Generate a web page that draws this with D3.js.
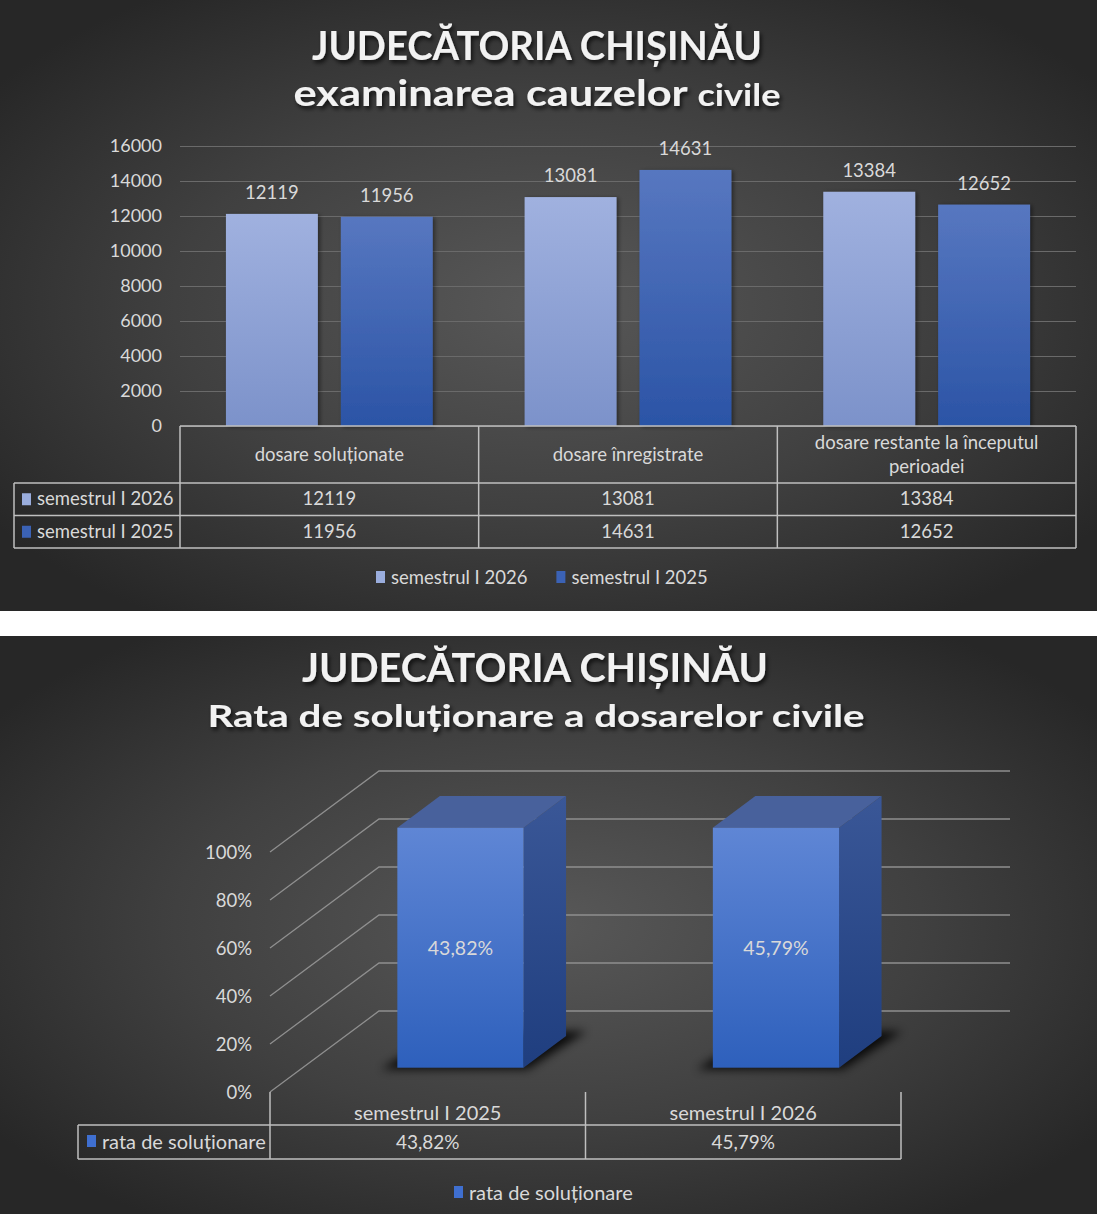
<!DOCTYPE html>
<html>
<head>
<meta charset="utf-8">
<script src="https://cdn.jsdelivr.net/npm/d3@7"></script>
<style>
  body { margin: 0; background: #fff; }
  svg { display: block; font-family: Lato, "Open Sans", sans-serif; }
  text { fill: #d9d9d9; }
</style>
</head>
<body>
<svg width="1097" height="1214"></svg>
<script>
// data - first chart
const categories = ["dosare soluționate", "dosare înregistrate", "dosare restante la începutul perioadei"];
const seriesNames = ["semestrul I 2026", "semestrul I 2025"];
const values2026 = [12119, 13081, 13384];
const values2025 = [11956, 14631, 12652];
const yTicks = [0, 2000, 4000, 6000, 8000, 10000, 12000, 14000, 16000];

// data - second chart (values kept as typed in the sheet, axis max 100%)
const rataCategories = ["semestrul I 2025", "semestrul I 2026"];
const rataValues = [43.82, 45.79];
const rataTicks = [0, 0.2, 0.4, 0.6, 0.8, 1];
const rataSeries = "rata de soluționare";

const svg = d3.select("svg");
const defs = svg.append("defs");

// Backgrounds
const bg = defs.append("radialGradient").attr("id", "bg").attr("cx", "50%").attr("cy", "50%").attr("r", "62%");
bg.append("stop").attr("offset", "0%").attr("stop-color", "#585858");
bg.append("stop").attr("offset", "55%").attr("stop-color", "#404040");
bg.append("stop").attr("offset", "100%").attr("stop-color", "#272727");

const vgrad = (id, c1, c2) => {
    const gr = defs.append("linearGradient").attr("id", id).attr("x1", 0).attr("y1", 0).attr("x2", 0).attr("y2", 1);
    gr.append("stop").attr("offset", "0%").attr("stop-color", c1);
    gr.append("stop").attr("offset", "100%").attr("stop-color", c2);
};
vgrad("g2026", "#a0b1df", "#7c92ca");
vgrad("g2025", "#5777c0", "#2b54a6");
vgrad("front3d", "#5f86d5", "#2e60bc");
vgrad("side3d", "#3a5797", "#1f3e7f");

const shadow = defs.append("filter").attr("id", "tshadow").attr("x", "-10%").attr("y", "-30%").attr("width", "120%").attr("height", "160%");
shadow.append("feDropShadow").attr("dx", 2).attr("dy", 3).attr("stdDeviation", 2).attr("flood-color", "#000").attr("flood-opacity", 0.7);
const barShadow = defs.append("filter").attr("id", "bshadow").attr("x", "-20%").attr("y", "-20%").attr("width", "140%").attr("height", "140%");
barShadow.append("feDropShadow").attr("dx", 2).attr("dy", 1).attr("stdDeviation", 2).attr("flood-color", "#000").attr("flood-opacity", 0.45);
const blur = defs.append("filter").attr("id", "blur").attr("x", "-30%").attr("y", "-50%").attr("width", "160%").attr("height", "200%");
blur.append("feGaussianBlur").attr("stdDeviation", 5);

svg.append("rect").attr("x", 0).attr("y", 0).attr("width", 1097).attr("height", 611).attr("fill", "url(#bg)");
svg.append("rect").attr("x", 0).attr("y", 636).attr("width", 1097).attr("height", 578).attr("fill", "url(#bg)");

const colors = { "semestrul I 2026": "url(#g2026)", "semestrul I 2025": "url(#g2025)" };
const swatch = { "semestrul I 2026": "#9aaddd", "semestrul I 2025": "#3b62b5" };
const lineCol = "#bfbfbf";

// ---------- chart 1 ----------
const chart1 = svg.append("g");
chart1.append("text").attr("x", 537).attr("y", 60).attr("text-anchor", "middle")
    .attr("font-size", 40).attr("font-weight", 700).attr("textLength", 450).attr("lengthAdjust", "spacingAndGlyphs")
    .attr("filter", "url(#tshadow)").style("fill", "#f2f2f2").text("JUDECĂTORIA CHIȘINĂU");
const sub1 = chart1.append("text").attr("x", 537).attr("y", 106).attr("text-anchor", "middle")
    .attr("font-weight", 700).attr("textLength", 487).attr("lengthAdjust", "spacingAndGlyphs")
    .attr("filter", "url(#tshadow)").style("fill", "#f2f2f2");
sub1.append("tspan").attr("font-size", 36).text("examinarea cauzelor ");
sub1.append("tspan").attr("font-size", 30).text("civile");

const x0 = d3.scaleBand().domain(categories).range([180, 1076]);
const x1 = d3.scaleBand().domain(seriesNames).range([0, x0.bandwidth()]).paddingInner(0.2).paddingOuter(0.4);
const y = d3.scaleLinear().domain([0, 16000]).range([426, 146]);

const yAxis = chart1.append("g").attr("transform", "translate(180,0)")
    .call(d3.axisLeft(y).tickValues(yTicks).tickFormat(d3.format("d")).tickSizeInner(-896).tickSizeOuter(0).tickPadding(18));
yAxis.select(".domain").remove();
yAxis.selectAll(".tick line").attr("stroke", "#6a6a6a").attr("stroke-width", 1.2);
yAxis.selectAll(".tick text").attr("font-size", 18).attr("font-family", "Lato").style("fill", "#d9d9d9");

const rows = seriesNames.map((s, i) => ({ name: s, values: i === 0 ? values2026 : values2025 }));

rows.forEach(r => {
    chart1.append("g").selectAll("rect")
        .data(r.values.map((v, i) => ({ cat: categories[i], v })))
        .enter().append("rect")
        .attr("x", d => x0(d.cat) + x1(r.name))
        .attr("y", d => y(d.v))
        .attr("width", x1.bandwidth())
        .attr("height", d => y(0) - y(d.v))
        .attr("fill", colors[r.name])
        .attr("filter", "url(#bshadow)");
    chart1.append("g").selectAll("text")
        .data(r.values.map((v, i) => ({ cat: categories[i], v })))
        .enter().append("text")
        .attr("x", d => x0(d.cat) + x1(r.name) + x1.bandwidth() / 2)
        .attr("y", d => y(d.v) - 15)
        .attr("text-anchor", "middle").attr("font-size", 18.5)
        .text(d => d.v);
});

// data table
const tbl = chart1.append("g").attr("stroke", lineCol).attr("stroke-width", 1.5).attr("fill", "none");
const tTop = 426, tHead = 483, rowH = 32.5, tLeft = 14;
tbl.append("line").attr("x1", 180).attr("x2", 1076).attr("y1", tTop).attr("y2", tTop);
[0, 1, 2].forEach(k => tbl.append("line").attr("x1", tLeft).attr("x2", 1076)
    .attr("y1", tHead + k * rowH).attr("y2", tHead + k * rowH));
x0.domain().forEach(c => tbl.append("line").attr("x1", x0(c)).attr("x2", x0(c)).attr("y1", tTop).attr("y2", tHead + 2 * rowH));
tbl.append("line").attr("x1", 1076).attr("x2", 1076).attr("y1", tTop).attr("y2", tHead + 2 * rowH);
tbl.append("line").attr("x1", tLeft).attr("x2", tLeft).attr("y1", tHead).attr("y2", tHead + 2 * rowH);

const headLines = { "dosare restante la începutul perioadei": ["dosare restante la începutul", "perioadei"] };
categories.forEach(c => {
    const lines = headLines[c] || [c];
    const cy = (tTop + tHead) / 2;
    lines.forEach((l, i) => {
        chart1.append("text").attr("x", x0(c) + x0.bandwidth() / 2)
            .attr("y", cy + 6 + (i - (lines.length - 1) / 2) * 24)
            .attr("text-anchor", "middle").attr("font-size", 18.5).text(l);
    });
});
rows.forEach((r, ri) => {
    const cy = tHead + ri * rowH + rowH / 2 + 6;
    chart1.append("rect").attr("x", 22).attr("y", cy - 12).attr("width", 9).attr("height", 12).attr("fill", swatch[r.name]);
    chart1.append("text").attr("x", 37).attr("y", cy).attr("font-size", 18.5).text(r.name);
    r.values.forEach((v, i) => {
        chart1.append("text").attr("x", x0(categories[i]) + x0.bandwidth() / 2).attr("y", cy)
            .attr("text-anchor", "middle").attr("font-size", 18.5).text(v);
    });
});

// legend
const leg1 = chart1.append("g");
let lx = 376;
seriesNames.forEach(s => {
    leg1.append("rect").attr("x", lx).attr("y", 571).attr("width", 9).attr("height", 12).attr("fill", swatch[s]);
    const t = leg1.append("text").attr("x", lx + 15).attr("y", 584).attr("font-size", 18.5).text(s);
    lx += 15 + t.node().getComputedTextLength() + 29;
});

// ---------- chart 2 (3D column) ----------
const chart2 = svg.append("g");
chart2.append("text").attr("x", 535).attr("y", 682).attr("text-anchor", "middle")
    .attr("font-size", 41).attr("font-weight", 700).attr("textLength", 466).attr("lengthAdjust", "spacingAndGlyphs")
    .attr("filter", "url(#tshadow)").style("fill", "#f2f2f2").text("JUDECĂTORIA CHIȘINĂU");
chart2.append("text").attr("x", 536).attr("y", 727).attr("text-anchor", "middle")
    .attr("font-size", 31).attr("font-weight", 700).attr("textLength", 657).attr("lengthAdjust", "spacingAndGlyphs")
    .attr("filter", "url(#tshadow)").style("fill", "#f2f2f2").text("Rata de soluționare a dosarelor civile");

const fx = d3.scaleBand().domain(rataCategories).range([270, 901]).paddingInner(0.6).paddingOuter(0.3);
const fxCell = d3.scaleBand().domain(rataCategories).range([270, 901]);
const fy = d3.scaleLinear().domain([0, 1]).range([1092, 852]).clamp(true);
const depth = { dx: 109, dy: -81 };
const proj = (px, v, z) => [px + z * depth.dx, fy(v) + z * depth.dy];
const zFront = 0.3, zBack = 0.69;

// walls
const walls = chart2.append("g").attr("stroke", "#8f8f8f").attr("stroke-width", 1.3).attr("fill", "none");
rataTicks.forEach(t => {
    const a = proj(270, t, 0), b = proj(270, t, 1), c = proj(901, t, 1);
    walls.append("polyline").attr("points", [a, b, c].map(p => p.join(",")).join(" "));
});
chart2.append("g").selectAll("text").data(rataTicks).enter().append("text")
    .attr("x", 252).attr("y", d => fy(d) + 7).attr("text-anchor", "end").attr("font-size", 18.5)
    .text(d => d3.format(".0%")(d));

// bars
const fmtPct = v => v.toFixed(2).replace(".", ",") + "%";
const bars = chart2.append("g");
rataCategories.forEach((c, i) => {
    const v = rataValues[i];
    const xl = fx(c), xr = fx(c) + fx.bandwidth();
    const poly = pts => pts.map(p => p.join(",")).join(" ");
    // floor shadow
    bars.append("polygon")
        .attr("points", poly([proj(xl - 14, 0, zFront - 0.02), proj(xr + 6, 0, zFront - 0.02), proj(xr + 14, 0, zBack + 0.06), proj(xl - 4, 0, zBack + 0.06)]))
        .attr("fill", "#000").attr("opacity", 0.85).attr("filter", "url(#blur)");
    // side face
    bars.append("polygon")
        .attr("points", poly([proj(xr, 0, zFront), proj(xr, 0, zBack), proj(xr, v, zBack), proj(xr, v, zFront)]))
        .attr("fill", "url(#side3d)");
    // top face
    bars.append("polygon")
        .attr("points", poly([proj(xl, v, zFront), proj(xr, v, zFront), proj(xr, v, zBack), proj(xl, v, zBack)]))
        .attr("fill", "#48619c");
    // front face
    const f0 = proj(xl, v, zFront), f1 = proj(xr, 0, zFront);
    bars.append("rect").attr("x", f0[0]).attr("y", f0[1]).attr("width", f1[0] - f0[0]).attr("height", f1[1] - f0[1])
        .attr("fill", "url(#front3d)");
    bars.append("text").attr("x", (f0[0] + f1[0]) / 2).attr("y", (f0[1] + f1[1]) / 2 + 7)
        .attr("text-anchor", "middle").attr("font-size", 19.5).text(fmtPct(v));
});

// data table
const tb2 = chart2.append("g").attr("stroke", lineCol).attr("stroke-width", 1.5).attr("fill", "none");
const b0 = fy(0), bRow = 1125, bEnd = 1159, bLeft = 78;
rataCategories.forEach(c => tb2.append("line").attr("x1", fxCell(c)).attr("x2", fxCell(c)).attr("y1", b0).attr("y2", bEnd));
tb2.append("line").attr("x1", 901).attr("x2", 901).attr("y1", b0).attr("y2", bEnd);
tb2.append("line").attr("x1", bLeft).attr("x2", bLeft).attr("y1", bRow).attr("y2", bEnd);
[bRow, bEnd].forEach(yy => tb2.append("line").attr("x1", bLeft).attr("x2", 901).attr("y1", yy).attr("y2", yy));
rataCategories.forEach((c, i) => {
    const cx = fxCell(c) + fxCell.bandwidth() / 2;
    chart2.append("text").attr("x", cx).attr("y", 1120).attr("text-anchor", "middle").attr("font-size", 20).text(c);
    chart2.append("text").attr("x", cx).attr("y", 1149).attr("text-anchor", "middle").attr("font-size", 19).text(fmtPct(rataValues[i]));
});
chart2.append("rect").attr("x", 87).attr("y", 1135).attr("width", 9).attr("height", 12).attr("fill", "#3f6fd0");
chart2.append("text").attr("x", 102).attr("y", 1149).attr("font-size", 20).text(rataSeries);

// legend
chart2.append("rect").attr("x", 454).attr("y", 1186).attr("width", 9).attr("height", 12).attr("fill", "#3f6fd0");
chart2.append("text").attr("x", 469).attr("y", 1200).attr("font-size", 20).text(rataSeries);
</script>
</body>
</html>
